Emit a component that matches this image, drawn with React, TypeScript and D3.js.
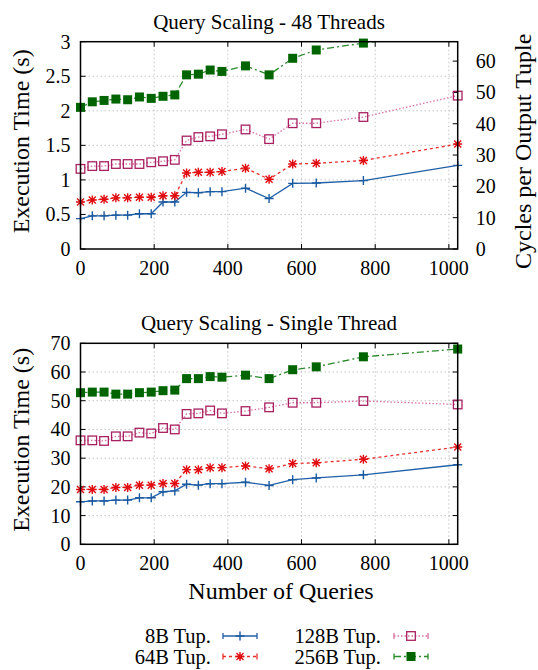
import React, { useEffect, useRef } from 'react';
import * as d3 from 'd3';

// number of queries (x positions shared by every series)
const queries = [0, 32, 64, 96, 128, 160, 192, 224, 256, 288, 320, 352, 384, 448, 512, 576, 640, 768, 1024];

// 48 threads, execution time in seconds
const mt8B = [0.44, 0.48, 0.48, 0.49, 0.49, 0.51, 0.51, 0.68, 0.68, 0.82, 0.815, 0.83, 0.83, 0.88, 0.73, 0.95, 0.955, 0.99, 1.21];
const mt64B = [0.68, 0.71, 0.72, 0.74, 0.74, 0.75, 0.75, 0.77, 0.77, 1.10, 1.11, 1.11, 1.12, 1.17, 1.01, 1.23, 1.24, 1.28, 1.52];
const mt128B = [1.16, 1.2, 1.2, 1.23, 1.23, 1.23, 1.255, 1.27, 1.29, 1.57, 1.62, 1.63, 1.66, 1.73, 1.59, 1.82, 1.82, 1.91, 2.22];
const mt256B = [2.05, 2.13, 2.15, 2.17, 2.16, 2.2, 2.18, 2.21, 2.23, 2.52, 2.53, 2.59, 2.57, 2.65, 2.52, 2.76, 2.88, 2.98, 3.15];

// single thread, execution time in seconds
const st8B = [14.8, 15.1, 15.1, 15.4, 15.4, 16.2, 16.2, 18.3, 18.6, 20.9, 20.6, 21.1, 21.1, 21.6, 20.5, 22.5, 23.1, 24.2, 27.7];
const st64B = [19.1, 19.1, 19.1, 19.8, 19.8, 20.6, 20.6, 21.2, 21.2, 26.0, 26.0, 26.7, 26.7, 27.3, 26.3, 28.1, 28.4, 29.6, 33.9];
const st128B = [36.2, 36.2, 36.0, 37.6, 37.6, 38.9, 38.6, 40.5, 40.0, 45.4, 45.6, 46.6, 45.6, 46.4, 47.7, 49.3, 49.3, 49.9, 48.7];
const st256B = [52.8, 53.0, 53.0, 52.3, 52.3, 52.8, 53.0, 53.5, 53.7, 57.7, 57.7, 58.4, 58.2, 58.9, 57.7, 60.8, 61.8, 65.3, 68.0];

const seriesNames = ['8B Tup.', '64B Tup.', '128B Tup.', '256B Tup.'];

const xTicks = [0, 200, 400, 600, 800, 1000];
const topYTicks = [0, 0.5, 1, 1.5, 2, 2.5, 3];
const topY2Ticks = [0, 10, 20, 30, 40, 50, 60];
const bottomYTicks = [0, 10, 20, 30, 40, 50, 60, 70];

const FONT = "'Liberation Serif', 'Times New Roman', serif";

const styles = [
    { line: '#2060a8', mark: '#1a5aa0', dash: null, marker: 'plus' },
    { line: '#e8302c', mark: '#e00c10', dash: '3,3', marker: 'star' },
    { line: '#d870a4', mark: '#a82060', dash: '1.5,2', marker: 'square' },
    { line: '#2c8a2c', mark: '#006400', dash: '7,3,2,3', marker: 'fsquare' },
];

function drawMarker(g: any, kind: string, x: number, y: number, color: string) {
    if (kind === 'plus') {
        g.append('path').attr('d', `M${x - 4.5},${y}H${x + 4.5}M${x},${y - 4.5}V${y + 4.5}`)
            .attr('stroke', color).attr('stroke-width', 1.4).attr('fill', 'none');
    } else if (kind === 'star') {
        g.append('path')
            .attr('d', `M${x - 4.5},${y}H${x + 4.5}M${x},${y - 4.5}V${y + 4.5}M${x - 3.5},${y - 3.5}L${x + 3.5},${y + 3.5}M${x - 3.5},${y + 3.5}L${x + 3.5},${y - 3.5}`)
            .attr('stroke', color).attr('stroke-width', 1.4).attr('fill', 'none');
    } else if (kind === 'square') {
        g.append('rect').attr('x', x - 4.3).attr('y', y - 4.3).attr('width', 8.6).attr('height', 8.6)
            .attr('stroke', color).attr('stroke-width', 1.3).attr('fill', 'none');
    } else {
        g.append('rect').attr('x', x - 4.5).attr('y', y - 4.5).attr('width', 9).attr('height', 9)
            .attr('fill', color);
    }
}

const App: React.FC = () => {
    const ref = useRef<SVGSVGElement>(null);

    useEffect(() => {
        document.body.style.margin = '0';
        const svg = d3.select(ref.current);
        svg.selectAll('*').remove();

        const left = 80.5, right = 457.7;
        const x = d3.scaleLinear().domain([0, 1024]).range([left, right]);

        const panel = (id: string, top: number, bottom: number, yMax: number, yTicks: number[],
                       data: number[][], title: string, y2: boolean) => {
            const y = d3.scaleLinear().domain([0, yMax]).range([bottom, top]);
            const g = svg.append('g');

            g.append('clipPath').attr('id', id).append('rect')
                .attr('x', left).attr('y', top).attr('width', right - left).attr('height', bottom - top);

            // grid
            xTicks.forEach(t => {
                g.append('line').attr('x1', x(t)).attr('x2', x(t)).attr('y1', top).attr('y2', bottom)
                    .attr('stroke', '#c4c4c4').attr('stroke-dasharray', '1.5,2.5');
            });
            yTicks.forEach(t => {
                if (t === 0 || t === yMax) return;
                g.append('line').attr('x1', left).attr('x2', right).attr('y1', y(t)).attr('y2', y(t))
                    .attr('stroke', '#c4c4c4').attr('stroke-dasharray', '1.5,2.5');
            });

            // ticks
            xTicks.forEach(t => {
                g.append('line').attr('x1', x(t)).attr('x2', x(t)).attr('y1', bottom).attr('y2', bottom - 5).attr('stroke', '#000');
                g.append('line').attr('x1', x(t)).attr('x2', x(t)).attr('y1', top).attr('y2', top + 5).attr('stroke', '#000');
                g.append('text').attr('x', x(t)).attr('y', bottom + 26).attr('text-anchor', 'middle')
                    .style('font-family', FONT).attr('font-size', 20).text(t);
            });
            yTicks.forEach(t => {
                g.append('line').attr('x1', left).attr('x2', left + 5).attr('y1', y(t)).attr('y2', y(t)).attr('stroke', '#000');
                if (!y2) g.append('line').attr('x1', right).attr('x2', right - 5).attr('y1', y(t)).attr('y2', y(t)).attr('stroke', '#000');
                g.append('text').attr('x', left - 10).attr('y', y(t) + 7).attr('text-anchor', 'end')
                    .style('font-family', FONT).attr('font-size', 20).text(String(t));
            });
            if (y2) {
                const yr = d3.scaleLinear().domain([0, 66.2]).range([bottom, top]);
                topY2Ticks.forEach(t => {
                    g.append('line').attr('x1', right).attr('x2', right - 5).attr('y1', yr(t)).attr('y2', yr(t)).attr('stroke', '#000');
                    g.append('text').attr('x', right + 18).attr('y', yr(t) + 7).attr('text-anchor', 'start')
                        .style('font-family', FONT).attr('font-size', 20).text(t);
                });
                g.append('text').attr('transform', `translate(531,${(top + bottom) / 2 + 6}) rotate(-90)`)
                    .attr('text-anchor', 'middle').style('font-family', FONT).attr('font-size', 24)
                    .text('Cycles per Output Tuple');
            }

            g.append('text').attr('transform', `translate(28.5,${(top + bottom) / 2 - 4}) rotate(-90)`)
                .attr('text-anchor', 'middle').style('font-family', FONT).attr('font-size', 24)
                .text('Execution Time (s)');
            g.append('text').attr('x', 269).attr('y', top - 13).attr('text-anchor', 'middle')
                .style('font-family', FONT).attr('font-size', 21).text(title);

            // series
            data.forEach((vals, i) => {
                const s = styles[i];
                const line = d3.line<number>().x((_, k) => x(queries[k])).y(v => y(v));
                g.append('path').attr('d', line(vals)).attr('fill', 'none')
                    .attr('stroke', s.line).attr('stroke-width', 1.3)
                    .attr('stroke-dasharray', s.dash)
                    .attr('clip-path', `url(#${id})`);
                const mg = g.append('g');
                vals.forEach((v, k) => {
                    if (v > yMax) return;
                    drawMarker(mg, s.marker, x(queries[k]), y(v), s.mark);
                });
            });

            g.append('rect').attr('x', left).attr('y', top).attr('width', right - left).attr('height', bottom - top)
                .attr('fill', 'none').attr('stroke', '#000').attr('stroke-width', 1.5);
        };

        panel('clipTop', 41.7, 249, 3, topYTicks, [mt8B, mt64B, mt128B, mt256B],
            'Query Scaling - 48 Threads', true);
        panel('clipBottom', 343.3, 544.3, 70, bottomYTicks, [st8B, st64B, st128B, st256B],
            'Query Scaling - Single Thread', false);

        svg.append('text').attr('x', 281).attr('y', 599).attr('text-anchor', 'middle')
            .style('font-family', FONT).attr('font-size', 24).text('Number of Queries');

        // legend
        const legendPos = [
            { tx: 211, lx: 223, y: 636 },
            { tx: 211, lx: 223, y: 656.5 },
            { tx: 381, lx: 394, y: 636 },
            { tx: 381, lx: 394, y: 656.5 },
        ];
        seriesNames.forEach((name, i) => {
            const p = legendPos[i];
            const s = styles[i];
            svg.append('text').attr('x', p.tx).attr('y', p.y + 7).attr('text-anchor', 'end')
                .style('font-family', FONT).attr('font-size', 20.5).text(name);
            svg.append('line').attr('x1', p.lx).attr('x2', p.lx + 34).attr('y1', p.y).attr('y2', p.y)
                .attr('stroke', s.line).attr('stroke-width', 1.3).attr('stroke-dasharray', s.dash);
            svg.append('path').attr('d', `M${p.lx},${p.y - 3}V${p.y + 3}M${p.lx + 34},${p.y - 3}V${p.y + 3}`)
                .attr('stroke', s.line).attr('stroke-width', 1.3);
            drawMarker(svg, s.marker, p.lx + 17, p.y, s.mark);
        });
    }, []);

    return <svg ref={ref} width={538} height={670} style={{ display: 'block', background: '#fff' }}></svg>;
};

export default App;
